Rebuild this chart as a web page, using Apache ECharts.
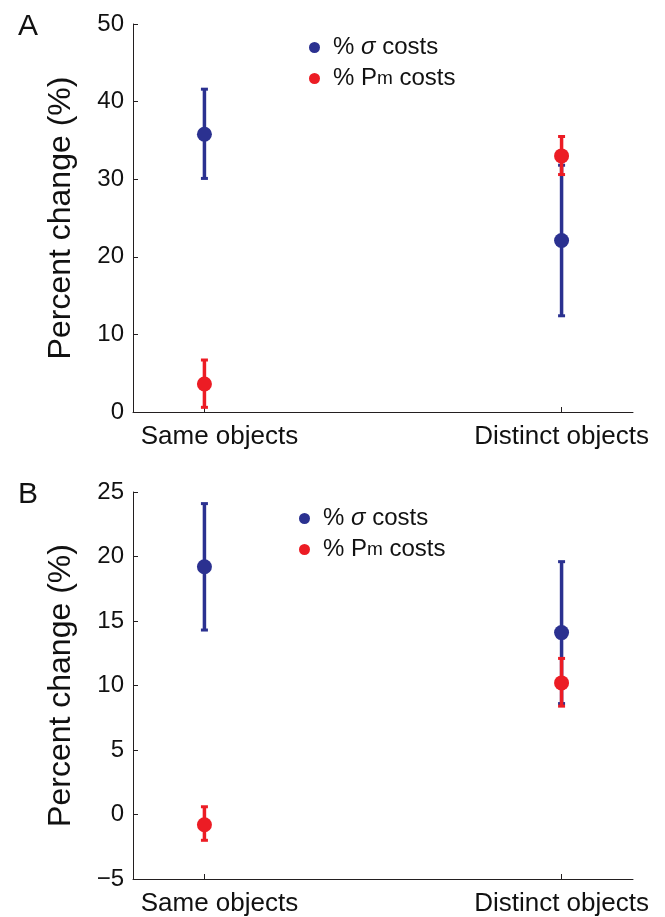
<!DOCTYPE html>
<html>
<head>
<meta charset="utf-8">
<script src="https://cdn.jsdelivr.net/npm/echarts@6/dist/echarts.min.js"></script>
<style>
html,body{margin:0;padding:0;background:#fff;}
#chart{width:665px;height:917px;}
</style>
</head>
<body>
<div id="chart"></div>
<script>
// ---- data ----
const categories = ['Same objects', 'Distinct objects'];
const seriesNames = ['sigma', 'Pm'];
// Panel A
const aSigmaMean = [35.8, 22.1];
const aSigmaLow  = [30.1, 12.4];
const aSigmaHigh = [41.6, 31.8];
const aPmMean = [3.6, 33.0];
const aPmLow  = [0.6, 30.6];
const aPmHigh = [6.7, 35.5];
// Panel B
const bSigmaMean = [19.2, 14.1];
const bSigmaLow  = [14.3, 8.6];
const bSigmaHigh = [24.1, 19.6];
const bPmMean = [-0.8, 10.2];
const bPmLow  = [-2.0, 8.4];
const bPmHigh = [0.6, 12.1];
// axes
const yAxisA = {min: 0, max: 50, interval: 10};
const yAxisB = {min: -5, max: 25, interval: 5};
const xRange = {min: 0.8, max: 2.2};
const catPositions = [1, 2];

const BLUE = '#2b3190';
const RED = '#ec1c24';
const AXIS = '#231f20';
const FONT = 'Liberation Sans, Arial, Helvetica, sans-serif';

const chart = echarts.init(document.getElementById('chart'), null, {renderer: 'canvas'});

function xAxisDef(gi) {
  return {
    type: 'value', gridIndex: gi, min: xRange.min, max: xRange.max,
    axisLine: {show: true, onZero: false, lineStyle: {color: AXIS, width: 1}},
    axisTick: {show: true, inside: true, length: 5, customValues: catPositions, lineStyle: {color: AXIS}},
    axisLabel: {show: true, customValues: catPositions, margin: 12, color: '#111', fontFamily: FONT, fontSize: 26,
      formatter: v => Math.round(v) === 1 ? '{s|' + categories[0] + '}' : (categories[Math.round(v) - 1] || ''),
      rich: {s: {fontFamily: FONT, fontSize: 26, color: '#111', padding: [0, 0, 0, 30]}}},
    splitLine: {show: false}
  };
}
function yAxisDef(gi, r) {
  return {
    type: 'value', gridIndex: gi, min: r.min, max: r.max, interval: r.interval,
    name: 'Percent change (%)', nameLocation: 'middle', nameGap: 56,
    nameTextStyle: {fontFamily: FONT, fontSize: 32, color: '#111'},
    axisLine: {show: true, onZero: false, lineStyle: {color: AXIS, width: 1}},
    axisTick: {show: true, inside: true, length: 5, lineStyle: {color: AXIS}},
    axisLabel: {margin: 9, color: '#111', fontFamily: FONT, fontSize: 24,
      formatter: v => String(v).replace('-', '\u2212')},
    splitLine: {show: false}
  };
}
function errData(mean, lo, hi) {
  return categories.map((c, i) => [catPositions[i], lo[i], hi[i], mean[i]]);
}
function meanData(mean) {
  return categories.map((c, i) => [catPositions[i], mean[i]]);
}
function errSeries(name, gi, color, mean, lo, hi, z) {
  return {
    type: 'custom', name: name, xAxisIndex: gi, yAxisIndex: gi, z: z,
    itemStyle: {color: color},
    data: errData(mean, lo, hi),
    renderItem: function (params, api) {
      const x = api.value(0);
      const pLo = api.coord([x, api.value(1)]);
      const pHi = api.coord([x, api.value(2)]);
      const cap = 3.5;
      const st = {stroke: color, lineWidth: 3.5};
      const st2 = {stroke: color, lineWidth: 3};
      return {
        type: 'group',
        children: [
          {type: 'line', shape: {x1: pLo[0], y1: pLo[1], x2: pHi[0], y2: pHi[1]}, style: st},
          {type: 'line', shape: {x1: pLo[0] - cap, y1: pLo[1], x2: pLo[0] + cap, y2: pLo[1]}, style: st2},
          {type: 'line', shape: {x1: pHi[0] - cap, y1: pHi[1], x2: pHi[0] + cap, y2: pHi[1]}, style: st2}
        ]
      };
    }
  };
}
function meanSeries(name, gi, color, mean, z) {
  return {
    type: 'scatter', name: name, xAxisIndex: gi, yAxisIndex: gi, z: z,
    symbol: 'circle', symbolSize: 15,
    itemStyle: {color: color, opacity: 1},
    data: meanData(mean)
  };
}
const legendRich = {
  i: {fontStyle: 'italic', fontSize: 24, fontFamily: FONT, color: '#111'},
  s: {fontSize: 19, fontFamily: FONT, color: '#111'}
};
function legendDef(left, top) {
  return {
    orient: 'vertical', left: left, top: top,
    data: [{name: 'sigma', icon: 'circle'}, {name: 'Pm', icon: 'circle'}],
    itemWidth: 11, itemHeight: 11, itemGap: 4,
    selectedMode: false,
    textStyle: {fontFamily: FONT, fontSize: 24, color: '#111', padding: [0, 0, 0, 8], lineHeight: 27, rich: legendRich},
    formatter: n => n === 'sigma' ? '% {i|\u03c3} costs' : '% P{s|m} costs'
  };
}

const option = {
  backgroundColor: '#fff',
  animation: false,
  title: [
    {text: 'A', left: 13, top: 7, textStyle: {fontFamily: FONT, fontSize: 30, fontWeight: 'normal', color: '#111'}},
    {text: 'B', left: 13, top: 475, textStyle: {fontFamily: FONT, fontSize: 30, fontWeight: 'normal', color: '#111'}}
  ],
  legend: [legendDef(304, 29), legendDef(294, 500)],
  grid: [
    {left: 133, top: 24, width: 500, height: 388},
    {left: 133, top: 492, width: 500, height: 388}
  ],
  xAxis: [xAxisDef(0), xAxisDef(1)],
  yAxis: [yAxisDef(0, yAxisA), yAxisDef(1, yAxisB)],
  series: [
    errSeries('sigma', 0, BLUE, aSigmaMean, aSigmaLow, aSigmaHigh, 2),
    meanSeries('sigma', 0, BLUE, aSigmaMean, 3),
    errSeries('Pm', 0, RED, aPmMean, aPmLow, aPmHigh, 4),
    meanSeries('Pm', 0, RED, aPmMean, 5),
    errSeries('sigma', 1, BLUE, bSigmaMean, bSigmaLow, bSigmaHigh, 2),
    meanSeries('sigma', 1, BLUE, bSigmaMean, 3),
    errSeries('Pm', 1, RED, bPmMean, bPmLow, bPmHigh, 4),
    meanSeries('Pm', 1, RED, bPmMean, 5)
  ]
};
chart.setOption(option);
</script>
</body>
</html>
